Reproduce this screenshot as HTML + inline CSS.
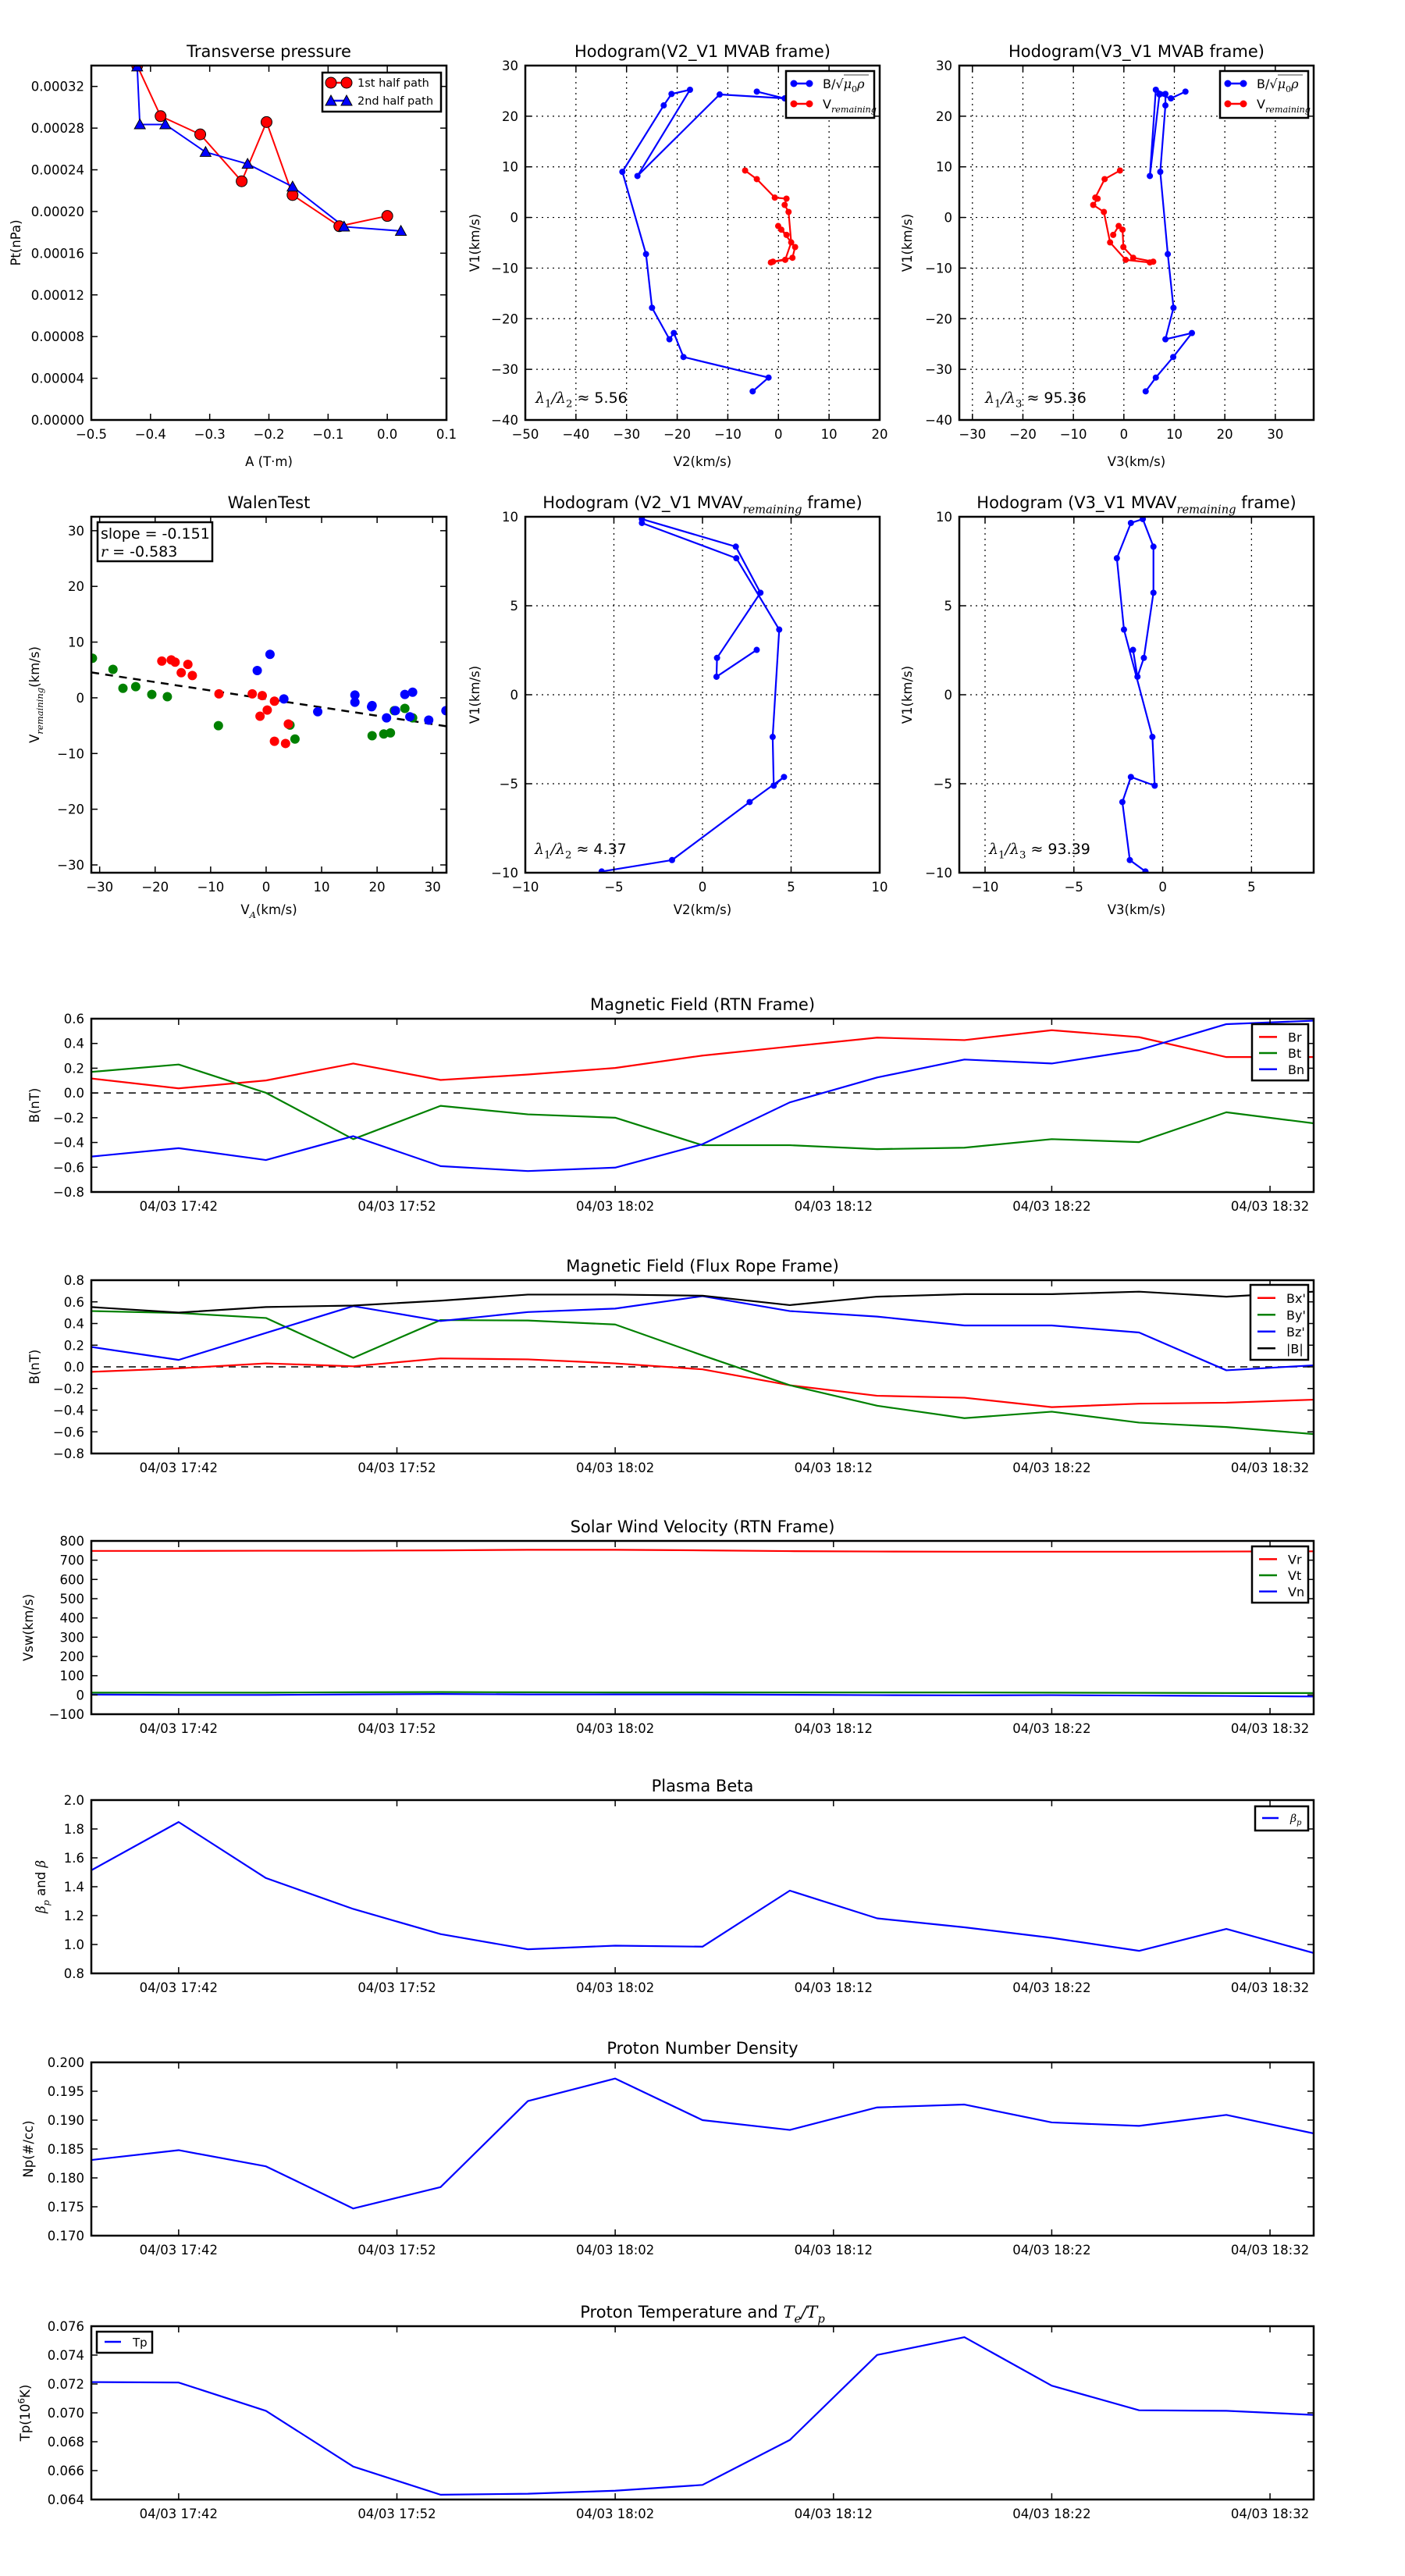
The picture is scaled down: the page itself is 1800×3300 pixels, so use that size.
<!DOCTYPE html>
<html><head><meta charset="utf-8"><title>Flux rope analysis</title>
<style>
html,body{margin:0;padding:0;background:#fff;}
svg{display:block;font-family:"DejaVu Sans","Liberation Sans",sans-serif;}
</style></head>
<body>
<svg id="fig" width="1800" height="3300" viewBox="0 0 1800 3300" xmlns="http://www.w3.org/2000/svg">
<rect x="0" y="0" width="1800" height="3300" fill="#fff"/>
</svg>
<script>
// ---------- data ----------
const tp1A = [-0.4225,-0.383,-0.316,-0.246,-0.204,-0.160,-0.081,0.0];
const tp1P = [0.000340,0.0002915,0.000274,0.000229,0.0002858,0.0002158,0.0001859,0.0001957];
const tp2A = [-0.4225,-0.418,-0.375,-0.307,-0.236,-0.160,-0.073,0.023];
const tp2P = [0.000339,0.0002835,0.0002835,0.000257,0.0002456,0.0002238,0.0001854,0.0001813];

const hbV2 = [-5.09,-1.95,-18.76,-20.66,-21.53,-24.97,-26.16,-30.83,-22.66,-21.12,-17.47,-27.85,-11.61,1.23,-4.27];
const hbV1 = [-34.35,-31.63,-27.56,-22.83,-24.06,-17.84,-7.24,9.01,22.13,24.39,25.22,8.19,24.29,23.52,24.86];
const hbV3 = [4.32,6.33,9.78,13.48,8.23,9.83,8.70,7.21,8.23,8.23,6.33,5.15,7.05,9.32,12.20];
const hrV2 = [-6.58,-4.27,-0.72,1.59,1.23,2.00,2.52,1.34,-1.49,-1.08,2.77,3.29,0.57,-0.05,1.59];
const hrV1 = [9.27,7.57,3.92,3.71,2.48,1.09,-4.93,-8.37,-8.89,-8.73,-7.96,-5.85,-2.41,-1.69,-3.44];
const hrV3 = [-0.77,-3.81,-5.66,-5.20,-6.07,-3.96,-2.73,0.36,5.15,5.82,1.85,-0.10,-0.26,-1.03,-2.11];

const walGx = [-31.3,-27.6,-25.8,-23.5,-20.6,-17.8,-8.6,4.3,5.2,19.1,21.2,22.4,23.1,25.0,26.4];
const walGy = [7.1,5.1,1.7,2.0,0.6,0.2,-5.0,-4.9,-7.4,-6.8,-6.5,-6.3,-2.3,-1.9,-3.6];
const walRx = [-18.8,-17.1,-16.4,-15.3,-14.1,-13.3,-8.5,-2.5,-0.7,1.5,0.2,-1.1,4.0,1.5,3.5];
const walRy = [6.6,6.8,6.4,4.5,6.0,4.0,0.7,0.7,0.4,-0.6,-2.2,-3.3,-4.7,-7.8,-8.2];
const walBx = [0.7,-1.6,3.2,9.3,16.0,16.0,19.0,19.1,21.7,23.3,25.0,26.4,25.9,29.3,32.4];
const walBy = [7.8,4.9,-0.2,-2.5,0.5,-0.8,-1.6,-1.4,-3.6,-2.3,0.6,1.0,-3.4,-4.0,-2.3];
const walSlope = -0.151;
const walIntercept = -0.2;
const walR = -0.583;

const hvV2 = [-5.69,-1.72,2.66,4.60,4.02,3.96,4.33,1.91,-3.42,-3.42,1.88,3.27,0.82,0.79,3.06];
const hvV1 = [-9.93,-9.29,-6.03,-4.62,-5.11,-2.37,3.66,7.67,9.65,9.87,8.32,5.73,2.07,1.01,2.52];
const hvV3 = [-0.97,-1.85,-2.27,-1.79,-0.45,-0.58,-2.18,-2.58,-1.79,-1.12,-0.52,-0.52,-1.06,-1.42,-1.67];

const times = ['17:38','17:42','17:46','17:50','17:54','17:58','18:02','18:06','18:10','18:14','18:18','18:22','18:26','18:30','18:34'];
const timeTicks = ['17:42','17:52','18:02','18:12','18:22','18:32'];
const Br = [0.117,0.037,0.101,0.238,0.105,0.149,0.202,0.302,0.375,0.447,0.427,0.507,0.451,0.290,0.290];
const Bt = [0.170,0.230,0.001,-0.373,-0.104,-0.173,-0.200,-0.422,-0.422,-0.454,-0.442,-0.373,-0.397,-0.156,-0.245];
const Bn = [-0.514,-0.446,-0.542,-0.349,-0.591,-0.631,-0.603,-0.414,-0.076,0.125,0.270,0.238,0.347,0.556,0.584];
const Bx1 = [-0.046,-0.014,0.032,0.005,0.078,0.069,0.032,-0.023,-0.170,-0.267,-0.285,-0.372,-0.340,-0.331,-0.303];
const By1 = [0.515,0.497,0.451,0.083,0.432,0.428,0.391,0.106,-0.170,-0.359,-0.474,-0.414,-0.515,-0.556,-0.621];
const Bz1 = [0.184,0.064,0.313,0.561,0.423,0.506,0.538,0.653,0.515,0.464,0.382,0.382,0.317,-0.032,0.014];
const Bmag = [0.552,0.501,0.552,0.566,0.611,0.667,0.667,0.657,0.570,0.648,0.671,0.671,0.694,0.648,0.694];
const Vr = [748,748,749,749,751,754,754,751,747,745,744,744,744,745,746];
const Vt = [12,12,12,14,15,14,13,13,13,13,13,12,11,10,10];
const Vn = [2,0,0,3,5,3,3,3,1,-1,-2,-1,-3,-5,-8];
const betaP = [1.514,1.848,1.460,1.246,1.072,0.967,0.992,0.985,1.373,1.181,1.119,1.046,0.956,1.108,0.941];
const Np = [0.1831,0.1848,0.1820,0.1747,0.1784,0.1933,0.1972,0.1900,0.1883,0.1922,0.1927,0.1896,0.1890,0.1909,0.1877];
const Tp = [0.07213,0.07210,0.07014,0.06628,0.06433,0.06440,0.06461,0.06501,0.06812,0.07401,0.07524,0.07188,0.07018,0.07014,0.06986];

// ---------- helpers ----------
const NS = 'http://www.w3.org/2000/svg';
const svg = document.getElementById('fig');
let clipN = 0;
function mk(tag, attrs, parent) {
  const e = document.createElementNS(NS, tag);
  for (const k in attrs) e.setAttribute(k, attrs[k]);
  if (parent) parent.appendChild(e);
  return e;
}
function range(a, b, s) { const r = []; for (let v = a; v <= b + s * 1e-6; v += s) r.push(+v.toFixed(6)); return r; }
function fmt(v, d) { const s = Math.abs(v).toFixed(d); return (v < -1e-12 ? '\u2212' : '') + s; }
function tMin(s) { const p = s.split(':').map(Number); return p[0] * 60 + p[1] - (17 * 60 + 38); }

// rich text: segs [{t, it, sub, sup, serif}]
function rich(parent, x, y, segs, size, anchor, rotate) {
  const t = mk('text', {x: x, y: y, 'font-size': size, 'text-anchor': anchor || 'start', fill: '#000'}, parent);
  if (rotate) t.setAttribute('transform', 'rotate(-90 ' + x + ' ' + y + ')');
  let shifted = 0;
  segs.forEach(s => {
    const sp = mk('tspan', {}, t);
    sp.textContent = s.t;
    if (s.it) sp.setAttribute('font-style', 'italic');
    if (s.serif || s.it) sp.setAttribute('font-family', '"DejaVu Serif","Liberation Serif",serif');
    const want = s.sub ? size * 0.3 : (s.sup ? -size * 0.4 : 0);
    if (want !== shifted) { sp.setAttribute('dy', want - shifted); shifted = want; }
    if (s.sub || s.sup) sp.setAttribute('font-size', size * 0.7);
  });
  return t;
}

function axes(o) {
  const g = mk('g', {}, svg);
  
  
  const sx = v => o.x + (v - o.xmin) / (o.xmax - o.xmin) * o.w;
  const sy = v => o.y + o.h - (v - o.ymin) / (o.ymax - o.ymin) * o.h;
  const cid = 'clip' + (clipN++);
  const cp = mk('clipPath', {id: cid}, g);
  mk('rect', {x: o.x, y: o.y, width: o.w, height: o.h}, cp);
  if (o.grid) {
    const gg = mk('g', {stroke: '#000', 'stroke-width': 1.2, 'stroke-dasharray': '2,5'}, g);
    
    
    o.xticks.forEach(v => { if (v > o.xmin && v < o.xmax) mk('line', {x1: sx(v), x2: sx(v), y1: o.y, y2: o.y + o.h}, gg); });
    o.yticks.forEach(v => { if (v > o.ymin && v < o.ymax) mk('line', {x1: o.x, x2: o.x + o.w, y1: sy(v), y2: sy(v)}, gg); });
  }
  const dg = mk('g', {'clip-path': 'url(#' + cid + ')'}, g);
  
  
  const fg = mk('g', {}, g);
  const tk = mk('g', {stroke: '#000', 'stroke-width': 1.5}, fg);
  
  
  const L = 8;
  o.xticks.forEach((v, i) => {
    const X = sx(v);
    mk('line', {x1: X, x2: X, y1: o.y + o.h, y2: o.y + o.h - L}, tk);
    mk('line', {x1: X, x2: X, y1: o.y, y2: o.y + L}, tk);
    const lab = mk('text', {x: X, y: o.y + o.h + 24, 'font-size': 16.5, 'text-anchor': 'middle', fill: '#000'}, fg);
    lab.textContent = o.xlabels[i];
    
    
  });
  o.yticks.forEach((v, i) => {
    const Y = sy(v);
    mk('line', {x1: o.x, x2: o.x + L, y1: Y, y2: Y}, tk);
    mk('line', {x1: o.x + o.w, x2: o.x + o.w - L, y1: Y, y2: Y}, tk);
    const lab = mk('text', {x: o.x - 9, y: Y + 6, 'font-size': 16.5, 'text-anchor': 'end', fill: '#000'}, fg);
    lab.textContent = o.ylabels[i];
    
    
  });
  const fr = mk('rect', {x: o.x, y: o.y, width: o.w, height: o.h, fill: 'none', stroke: '#000', 'stroke-width': 2.5}, fg);
  
  
  if (o.title) {
    const tt = rich(fg, o.x + o.w / 2, o.y - 11, o.title, 21, 'middle');
    
    
  }
  if (o.xtitle) {
    const xt = rich(fg, o.x + o.w / 2, o.xtitleY, o.xtitle, 16.5, 'middle');
    
    
  }
  if (o.ytitle) {
    const yt = rich(fg, o.ytitleX, o.y + o.h / 2, o.ytitle, 16.5, 'middle', true);
    
    
  }
  return {g, dg, fg, sx, sy};
}

function line(ax, xs, ys, color, w, dash) {
  const pts = xs.map((x, i) => ax.sx(x).toFixed(2) + ',' + ax.sy(ys[i]).toFixed(2)).join(' ');
  const p = mk('polyline', {points: pts, fill: 'none', stroke: color, 'stroke-width': w || 2, 'stroke-linejoin': 'round'}, ax.dg);
  if (dash) p.setAttribute('stroke-dasharray', dash);
  return p;
}
function dots(ax, xs, ys, color, r, edge) {
  const g = mk('g', {}, ax.dg);
  xs.forEach((x, i) => {
    const c = mk('circle', {cx: ax.sx(x), cy: ax.sy(ys[i]), r: r, fill: color}, g);
    if (edge) { c.setAttribute('stroke', '#000'); c.setAttribute('stroke-width', 1); }
    
    
  });
  return g;
}
function tris(ax, xs, ys, color, s) {
  const g = mk('g', {}, ax.dg);
  xs.forEach((x, i) => {
    const X = ax.sx(x), Y = ax.sy(ys[i]);
    const p = mk('polygon', {points: X + ',' + (Y - s) + ' ' + (X - s) + ',' + (Y + s * 0.8) + ' ' + (X + s) + ',' + (Y + s * 0.8), fill: color, stroke: '#000', 'stroke-width': 1}, g);
    
    
  });
  return g;
}
function legendBox(parent, x, y, w, h) {
  return mk('rect', {x: x, y: y, width: w, height: h, fill: '#fff', stroke: '#000', 'stroke-width': 2.5}, parent);
}
function legendLine(parent, x1, x2, y, color, marker) {
  const l = mk('line', {x1: x1, x2: x2, y1: y, y2: y, stroke: color, 'stroke-width': 2.5}, parent);
  if (marker === 'o') { mk('circle', {cx: x1, cy: y, r: 4.5, fill: color}, parent); mk('circle', {cx: x2, cy: y, r: 4.5, fill: color}, parent); }
  if (marker === 'O') { [x1, x2].forEach(X => mk('circle', {cx: X, cy: y, r: 7, fill: color, stroke: '#000', 'stroke-width': 1}, parent)); }
  if (marker === '^') { [x1, x2].forEach(X => mk('polygon', {points: (X) + ',' + (y - 7) + ' ' + (X - 7) + ',' + (y + 6) + ' ' + (X + 7) + ',' + (y + 6), fill: color, stroke: '#000', 'stroke-width': 1}, parent)); }
  return l;
}

// ---------- Row 1: Transverse pressure ----------
{
  const yt = range(0, 0.00032, 0.00004);
  const xt = range(-0.5, 0.1, 0.1);
  const ax = axes({name: 'transverse-pressure-chart', x: 117, y: 84, w: 455, h: 454, xmin: -0.5, xmax: 0.1, ymin: 0, ymax: 0.00034,
    xticks: xt, xlabels: xt.map(v => fmt(v, 1)), yticks: yt, ylabels: yt.map(v => fmt(v, 5)),
    title: [{t: 'Transverse pressure'}], xtitle: [{t: 'A (T\u00b7m)'}], xtitleY: 597, ytitle: [{t: 'Pt(nPa)'}], ytitleX: 26});
  const l1 = line(ax, tp1A, tp1P, '#ff0000', 2);
  
  
  const l2 = line(ax, tp2A, tp2P, '#0000ff', 2);
  
  
  dots(ax, tp1A, tp1P, '#ff0000', 7, true);
  tris(ax, tp2A, tp2P, '#0000ff', 7);
  const lg = mk('g', {}, ax.fg);
  
  
  legendBox(lg, 413, 93, 152, 50);
  legendLine(lg, 424, 444, 106, '#ff0000', 'O');
  legendLine(lg, 424, 444, 129, '#0000ff', '^');
  const a = mk('text', {x: 458, y: 111, 'font-size': 14.5}, lg); a.textContent = '1st half path';
  const b = mk('text', {x: 458, y: 134, 'font-size': 14.5}, lg); b.textContent = '2nd half path';
}

function hodoLegend(ax, x, w) {
  const lg = mk('g', {}, ax.fg);
  
  
  legendBox(lg, x, 91, w, 60);
  legendLine(lg, x + 10, x + 30, 107, '#0000ff', 'o');
  legendLine(lg, x + 10, x + 30, 133, '#ff0000', 'o');
  rich(lg, x + 47, 113, [{t: 'B/\u221a'}, {t: '\u03bc', it: 1}, {t: '0', sub: 1, serif: 1}, {t: '\u03c1', it: 1}], 16, 'start');
  mk('line', {x1: x + 74, x2: x + 106, y1: 96, y2: 96, stroke: '#000', 'stroke-width': 0.8}, lg);
  rich(lg, x + 47, 139, [{t: 'V'}, {t: 'remaining', it: 1, sub: 1}], 16, 'start');
}
function ratioText(ax, x, y, sub2, val) {
  const t = rich(ax.fg, x, y, [{t: '\u03bb', it: 1}, {t: '1', sub: 1, serif: 1}, {t: '/', it: 1}, {t: '\u03bb', it: 1}, {t: sub2, sub: 1, serif: 1}, {t: ' \u2248 ' + val}], 19, 'start');
  
  
}

// ---------- Hodogram V2_V1 MVAB ----------
{
  const xt = range(-50, 20, 10), yt = range(-40, 30, 10);
  const ax = axes({name: 'hodogram-v2-v1-mvab', x: 673, y: 84, w: 454, h: 454, xmin: -50, xmax: 20, ymin: -40, ymax: 30, grid: true,
    xticks: xt, xlabels: xt.map(v => fmt(v, 0)), yticks: yt, ylabels: yt.map(v => fmt(v, 0)),
    title: [{t: 'Hodogram(V2_V1 MVAB frame)'}], xtitle: [{t: 'V2(km/s)'}], xtitleY: 597, ytitle: [{t: 'V1(km/s)'}], ytitleX: 614});
  const b = line(ax, hbV2, hbV1, '#0000ff', 2.2);
  
  
  dots(ax, hbV2, hbV1, '#0000ff', 4);
  const r = line(ax, hrV2, hrV1, '#ff0000', 2.2);
  
  
  dots(ax, hrV2, hrV1, '#ff0000', 4);
  hodoLegend(ax, 1007, 113);
  ratioText(ax, 686, 516, '2', '5.56');
}
// ---------- Hodogram V3_V1 MVAB ----------
{
  const xt = range(-30, 30, 10), yt = range(-40, 30, 10);
  const ax = axes({name: 'hodogram-v3-v1-mvab', x: 1229, y: 84, w: 454, h: 454, xmin: -32.6, xmax: 37.6, ymin: -40, ymax: 30, grid: true,
    xticks: xt, xlabels: xt.map(v => fmt(v, 0)), yticks: yt, ylabels: yt.map(v => fmt(v, 0)),
    title: [{t: 'Hodogram(V3_V1 MVAB frame)'}], xtitle: [{t: 'V3(km/s)'}], xtitleY: 597, ytitle: [{t: 'V1(km/s)'}], ytitleX: 1168});
  const b = line(ax, hbV3, hbV1, '#0000ff', 2.2);
  
  
  dots(ax, hbV3, hbV1, '#0000ff', 4);
  const r = line(ax, hrV3, hrV1, '#ff0000', 2.2);
  
  
  dots(ax, hrV3, hrV1, '#ff0000', 4);
  hodoLegend(ax, 1563, 113);
  ratioText(ax, 1262, 516, '3', '95.36');
}

// ---------- Walen test ----------
{
  const xt = range(-30, 30, 10), yt = range(-30, 30, 10);
  const ax = axes({name: 'walen-test-chart', x: 117, y: 662, w: 455, h: 456, xmin: -31.5, xmax: 32.5, ymin: -31.4, ymax: 32.5,
    xticks: xt, xlabels: xt.map(v => fmt(v, 0)), yticks: yt, ylabels: yt.map(v => fmt(v, 0)),
    title: [{t: 'WalenTest'}], xtitle: [{t: 'V'}, {t: 'A', it: 1, sub: 1}, {t: '(km/s)'}], xtitleY: 1171,
    ytitle: [{t: 'V'}, {t: 'remaining', it: 1, sub: 1}, {t: '(km/s)'}], ytitleX: 50});
  const fx = [-31.5, 32.5];
  const fy = fx.map(x => walSlope * x + walIntercept);
  const fl = line(ax, fx, fy, '#000', 2.5, '10,8');
  
  
  dots(ax, walGx, walGy, '#008000', 6);
  dots(ax, walRx, walRy, '#ff0000', 6);
  dots(ax, walBx, walBy, '#0000ff', 6);
  const bx = mk('g', {}, ax.fg);
  
  
  legendBox(bx, 125, 669, 147, 50);
  const s = mk('text', {x: 129, y: 690, 'font-size': 19}, bx); s.textContent = 'slope = ' + walSlope.toFixed(3);
  rich(bx, 129, 713, [{t: 'r', it: 1}, {t: ' = ' + walR.toFixed(3)}], 19, 'start');
}
// ---------- Hodogram MVAV V2 ----------
{
  const xt = range(-10, 10, 5), yt = range(-10, 10, 5);
  const ax = axes({name: 'hodogram-v2-v1-mvav', x: 673, y: 662, w: 454, h: 456, xmin: -10, xmax: 10, ymin: -10, ymax: 10, grid: true,
    xticks: xt, xlabels: xt.map(v => fmt(v, 0)), yticks: yt, ylabels: yt.map(v => fmt(v, 0)),
    title: [{t: 'Hodogram (V2_V1 MVAV'}, {t: 'remaining', it: 1, sub: 1}, {t: ' frame)'}], xtitle: [{t: 'V2(km/s)'}], xtitleY: 1171,
    ytitle: [{t: 'V1(km/s)'}], ytitleX: 614});
  const b = line(ax, hvV2, hvV1, '#0000ff', 2.2);
  
  
  dots(ax, hvV2, hvV1, '#0000ff', 4);
  ratioText(ax, 685, 1094, '2', '4.37');
}
// ---------- Hodogram MVAV V3 ----------
{
  const xt = range(-10, 5, 5), yt = range(-10, 10, 5);
  const ax = axes({name: 'hodogram-v3-v1-mvav', x: 1229, y: 662, w: 454, h: 456, xmin: -11.45, xmax: 8.5, ymin: -10, ymax: 10, grid: true,
    xticks: xt, xlabels: xt.map(v => fmt(v, 0)), yticks: yt, ylabels: yt.map(v => fmt(v, 0)),
    title: [{t: 'Hodogram (V3_V1 MVAV'}, {t: 'remaining', it: 1, sub: 1}, {t: ' frame)'}], xtitle: [{t: 'V3(km/s)'}], xtitleY: 1171,
    ytitle: [{t: 'V1(km/s)'}], ytitleX: 1168});
  const b = line(ax, hvV3, hvV1, '#0000ff', 2.2);
  
  
  dots(ax, hvV3, hvV1, '#0000ff', 4);
  ratioText(ax, 1267, 1094, '3', '93.39');
}

// ---------- time series ----------
const tx = times.map(tMin);
function timeAxes(o) {
  o.x = 117; o.w = 1566; o.h = 222; o.xmin = 0; o.xmax = 56;
  o.xticks = timeTicks.map(tMin);
  o.xlabels = timeTicks.map(t => '04/03 ' + t);
  return axes(o);
}
function series(ax, ys, color, name) {
  const l = line(ax, tx, ys, color, 2.2);
  
  
}
function zeroLine(ax) {
  const z = line(ax, [0, 56], [0, 0], '#000', 1.5, '9,7');
  
  
}
function tsLegend(ax, x, y, w, entries, rowH) {
  const lg = mk('g', {}, ax.fg);
  
  
  legendBox(lg, x, y, w, entries.length * rowH + 10);
  entries.forEach((e, i) => {
    const yy = y + 12 + i * rowH + rowH / 2 - 6;
    legendLine(lg, x + 9, x + 32, yy, e.c, null);
    rich(lg, x + 46, yy + 6, e.l, 16, 'start');
  });
}
{
  const yt = range(-0.8, 0.6, 0.2);
  const ax = timeAxes({name: 'magnetic-field-rtn-chart', y: 1305, ymin: -0.8, ymax: 0.6, yticks: yt, ylabels: yt.map(v => fmt(v, 1)),
    title: [{t: 'Magnetic Field (RTN Frame)'}], ytitle: [{t: 'B(nT)'}], ytitleX: 50});
  zeroLine(ax);
  series(ax, Br, '#ff0000', 'br-line');
  series(ax, Bt, '#008000', 'bt-line');
  series(ax, Bn, '#0000ff', 'bn-line');
  tsLegend(ax, 1604, 1312, 72, [{c: '#ff0000', l: [{t: 'Br'}]}, {c: '#008000', l: [{t: 'Bt'}]}, {c: '#0000ff', l: [{t: 'Bn'}]}], 20.7);
}
{
  const yt = range(-0.8, 0.8, 0.2);
  const ax = timeAxes({name: 'magnetic-field-flux-rope-chart', y: 1640, ymin: -0.8, ymax: 0.8, yticks: yt, ylabels: yt.map(v => fmt(v, 1)),
    title: [{t: 'Magnetic Field (Flux Rope Frame)'}], ytitle: [{t: 'B(nT)'}], ytitleX: 50});
  zeroLine(ax);
  series(ax, Bx1, '#ff0000', 'bx-prime-line');
  series(ax, By1, '#008000', 'by-prime-line');
  series(ax, Bz1, '#0000ff', 'bz-prime-line');
  series(ax, Bmag, '#000000', 'b-magnitude-line');
  tsLegend(ax, 1602, 1646, 74, [{c: '#ff0000', l: [{t: "Bx'"}]}, {c: '#008000', l: [{t: "By'"}]}, {c: '#0000ff', l: [{t: "Bz'"}]}, {c: '#000', l: [{t: '|B|'}]}], 21.5);
}
{
  const yt = range(-100, 800, 100);
  const ax = timeAxes({name: 'solar-wind-velocity-chart', y: 1974, ymin: -100, ymax: 800, yticks: yt, ylabels: yt.map(v => fmt(v, 0)),
    title: [{t: 'Solar Wind Velocity (RTN Frame)'}], ytitle: [{t: 'Vsw(km/s)'}], ytitleX: 42});
  series(ax, Vr, '#ff0000', 'vr-line');
  series(ax, Vt, '#008000', 'vt-line');
  series(ax, Vn, '#0000ff', 'vn-line');
  tsLegend(ax, 1604, 1981, 72, [{c: '#ff0000', l: [{t: 'Vr'}]}, {c: '#008000', l: [{t: 'Vt'}]}, {c: '#0000ff', l: [{t: 'Vn'}]}], 20.7);
}
{
  const yt = range(0.8, 2.0, 0.2);
  const ax = timeAxes({name: 'plasma-beta-chart', y: 2306, ymin: 0.8, ymax: 2.0, yticks: yt, ylabels: yt.map(v => fmt(v, 1)),
    title: [{t: 'Plasma Beta'}], ytitle: [{t: '\u03b2', it: 1}, {t: 'p', it: 1, sub: 1}, {t: ' and '}, {t: '\u03b2', it: 1}], ytitleX: 58});
  series(ax, betaP, '#0000ff', 'beta-p-line');
  const lg = mk('g', {}, ax.fg);
  
  
  legendBox(lg, 1608, 2314, 68, 31);
  legendLine(lg, 1617, 1638, 2329, '#0000ff', null);
  rich(lg, 1653, 2334, [{t: '\u03b2', it: 1}, {t: 'p', it: 1, sub: 1}], 14, 'start');
}
{
  const yt = range(0.170, 0.200, 0.005);
  const ax = timeAxes({name: 'proton-density-chart', y: 2642, ymin: 0.170, ymax: 0.200, yticks: yt, ylabels: yt.map(v => fmt(v, 3)),
    title: [{t: 'Proton Number Density'}], ytitle: [{t: 'Np(#/cc)'}], ytitleX: 42});
  series(ax, Np, '#0000ff', 'density-line');
}
{
  const yt = range(0.064, 0.076, 0.002);
  const ax = timeAxes({name: 'proton-temperature-chart', y: 2980, ymin: 0.064, ymax: 0.076, yticks: yt, ylabels: yt.map(v => fmt(v, 3)),
    title: [{t: 'Proton Temperature and '}, {t: 'T', it: 1}, {t: 'e', it: 1, sub: 1}, {t: '/T', it: 1}, {t: 'p', it: 1, sub: 1}],
    ytitle: [{t: 'Tp(10'}, {t: '6', sup: 1}, {t: 'K)'}], ytitleX: 38});
  series(ax, Tp, '#0000ff', 'temperature-line');
  const lg = mk('g', {}, ax.fg);
  
  
  legendBox(lg, 124, 2987, 71, 27);
  legendLine(lg, 134, 155, 3000, '#0000ff', null);
  const t = mk('text', {x: 170, y: 3006, 'font-size': 15}, lg); t.textContent = 'Tp';
}
</script>
</body></html>
